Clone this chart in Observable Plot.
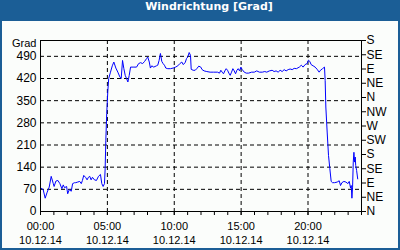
<!DOCTYPE html>
<html>
<head>
<meta charset="utf-8">
<script src="https://cdn.jsdelivr.net/npm/d3@7"></script>
<script src="https://cdn.jsdelivr.net/npm/@observablehq/plot@0.6"></script>
<style>
  html, body { margin: 0; padding: 0; }
  #frame { position: relative; width: 400px; height: 250px; background: #1b5e96; overflow: hidden; }
  #title { position: absolute; left: 0; top: 0; width: 400px; height: 21px; line-height: 20px;
           color: #fff; font: bold 11px "DejaVu Sans", sans-serif; text-align: center; box-sizing: border-box; padding-left: 18px; }
  #chart { position: absolute; left: 2px; top: 21px; width: 396px; height: 227px; background: #fbfdfb; }
  #chart svg { display: block; }
</style>
</head>
<body>
<div id="frame">
  <div id="title">Windrichtung [Grad]</div>
  <div id="chart"></div>
</div>
<script>
// time of each reading, minutes after 00:00 on 10.12.14
const minutes = [0,12,21,30,39,48,57,61,69,78,87,96,102,108,117,122,129,138,144,153,158,167,176,183,188,194,203,209,215,221,227,233,242,251,260,269,275,281,287,
  290,293,297,302,306,314,322,329,338,347,356,362,368,374,380,386,392,398,404,419,431,440,449,458,467,476,481,488,493,499,508,520,526,532,538,544,550,556,562,571,583,595,606,616,625,634,640,649,655,661,667,673,676,685,694,
  701,710,719,725,734,746,761,776,794,803,809,815,821,827,833,839,845,851,857,863,869,875,881,887,893,899,905,914,923,934,947,959,970,982,995,1006,1015,1027,1039,1048,1057,1066,1075,1084,1093,1102,1111,1120,1129,1138,
  1148,1161,1170,1178,1187,1196,1202,1208,1214,1223,1232,1241,1250,1256,1265,1274,1277,1280,1286,1292,1298,1304,1310,1319,1331,1340,1346,1352,1361,1370,1379,1385,1391,1394,1397,1400,1403,1406,1409,1412,1414,1418,1423];
// wind direction in degrees (unwrapped)
const degrees = [75,69,42,61,77,111,89,79,96,98,88,72,84,75,79,56,69,64,88,91,91,93,95,88,98,114,107,100,108,111,100,108,100,98,111,117,88,79,88,
  135,225,309,380,420,440,460,472,453,440,425,420,477,451,430,420,409,430,456,456,456,467,470,467,474,483,488,472,453,460,456,460,462,477,499,474,467,462,453,451,451,453,456,460,467,472,464,470,483,488,502,493,449,446,446,
  451,459,456,448,444,442,440,440,440,437,446,440,435,444,451,446,437,430,440,451,444,435,446,451,444,456,448,440,437,437,440,440,444,440,440,442,440,444,446,442,444,440,446,442,448,444,448,450,448,452,
  451,456,462,456,464,467,478,474,464,460,456,449,440,446,451,456,414,330,251,177,135,95,91,91,93,97,82,91,95,93,88,95,74,82,42,77,156,187,156,172,145,130,103];

const yTicks = [0,70,140,210,280,350,420,490];
const compassTicks = [0,45,90,135,180,225,270,315,360,405,450,495,540];
const compassLabels = ["N","NE","E","SE","S","SW","W","NW","N","NE","E","SE","S"];
const timeTicks = [0,300,600,900,1200];
const timeLabels = ["00:00","05:00","10:00","15:00","20:00"];
const dateLabel = "10.12.14";
const hourTicks = d3.range(0, 1441, 60);

const data = minutes.map((m, i) => ({m, v: degrees[i]}));

const chart = Plot.plot({
  width: 396,
  height: 227,
  marginTop: 19,
  marginLeft: 38,
  marginRight: 37,
  marginBottom: 37,
  x: {domain: [0, 1440]},
  y: {domain: [0, 540]},
  style: {fontFamily: "'Liberation Sans', Arial, sans-serif", fontSize: "12px", background: "transparent", color: "black"},
  marks: [
    Plot.gridY(yTicks.slice(1), {stroke: "black", strokeOpacity: 1, strokeDasharray: "4,3"}),
    Plot.gridX(timeTicks.slice(1), {stroke: "black", strokeOpacity: 1, strokeDasharray: "4,3"}),
    Plot.line(data, {x: "m", y: "v", stroke: "#0000ff", strokeWidth: 1}),
    Plot.frame({stroke: "black"}),
    Plot.axisY(yTicks, {anchor: "left", tickSize: 0, tickPadding: 4, label: null, fontSize: 12}),
    Plot.axisY(compassTicks, {anchor: "right", tickSize: 4, tickPadding: 1, label: null, fontSize: 12,
      tickFormat: d => compassLabels[compassTicks.indexOf(d)]}),
    Plot.axisX(hourTicks, {anchor: "bottom", tickSize: 4, tickFormat: () => "", label: null}),
    Plot.axisX(timeTicks, {anchor: "bottom", tickSize: 4, tickPadding: 5, label: null, fontSize: 11, lineHeight: 1.27,
      tickFormat: d => timeLabels[timeTicks.indexOf(d)] + "\n" + dateLabel}),
    Plot.text(["Grad"], {frameAnchor: "top-left", dx: -4, dy: 3, textAnchor: "end", lineAnchor: "middle", fontSize: 11})
  ]
});
document.getElementById("chart").appendChild(chart);
</script>
</body>
</html>
